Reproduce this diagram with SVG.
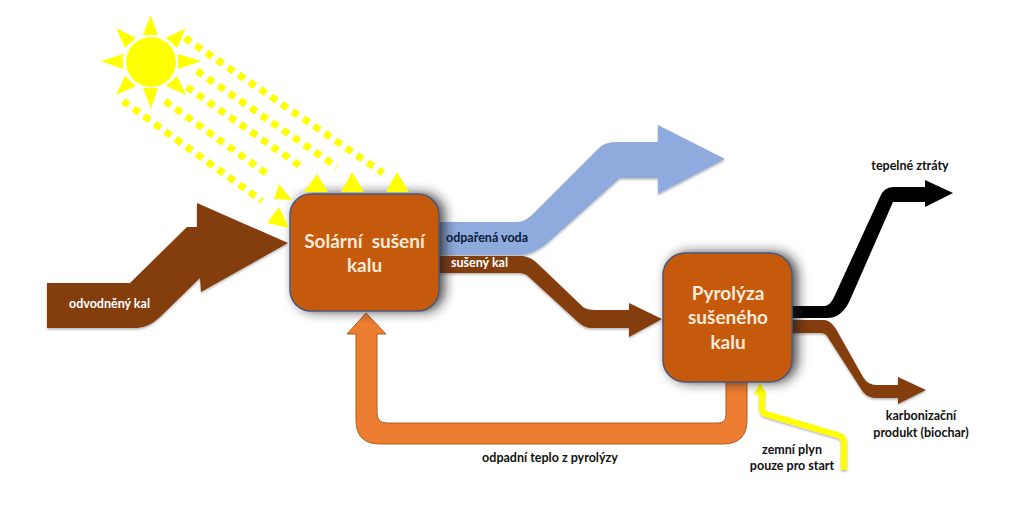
<svg xmlns="http://www.w3.org/2000/svg" width="1023" height="511" viewBox="0 0 1023 511">
<style>
text{font-family:Lato,"Open Sans","Liberation Sans",sans-serif;font-weight:700}
.lbl{font-size:12.5px;fill:#111}
.w{font-size:12.5px;fill:#fff}
.big{font-size:19px;fill:#fdeada;text-anchor:middle;white-space:pre}
.c{text-anchor:middle}
.box{fill:#c55a11;stroke:#4d5578;stroke-width:1.5;filter:url(#boxShadow)}
.ray{stroke:#ffff00;stroke-width:7;stroke-dasharray:7 6;fill:none}
.head{fill:#ffff00}
.flow{filter:url(#flowShadow)}
</style>
<defs>
<filter id="boxShadow" x="-30%" y="-30%" width="160%" height="160%"><feDropShadow dx="5" dy="0" stdDeviation="6" flood-color="#222" flood-opacity="0.8"/></filter>
<filter id="flowShadow" x="-10%" y="-10%" width="120%" height="120%"><feDropShadow dx="0" dy="1.5" stdDeviation="1.2" flood-color="#000" flood-opacity="0.3"/></filter>
</defs>
<rect width="1023" height="511" fill="#fff"/>
<g id="sun" fill="#ffff00">
<circle cx="151" cy="62" r="25"/>
<polygon points="143,35 158,35 150.500,15"/>
<polygon points="143,88 158,88 151,109"/>
<polygon points="123,54 123,69 101,61"/>
<polygon points="178,54 178,69 201,61"/>
<polygon points="116,28 136,38 125,48"/>
<polygon points="186,28 166,38 177,48"/>
<polygon points="116,95 125,76 136,86"/>
<polygon points="186,95 177,76 166,86"/>
</g>
<g id="connectors">
<path class="flow" fill="#843c0c" d="M47 283H130L187 227H197V203L288 243L201 292L200 278L160 317Q148 328 137 328H47Z"/>
<path class="flow" fill="#8faadc" d="M430 222H517Q525 222 532 215L600 147Q606 142 617 142H658V125L725 159L658 194V178H620L553 238Q535 255 520 255H430Z"/>
<path class="flow" fill="#843c0c" d="M430 256H523Q531 257 538 264L583 307Q587 310 595 310H629V303L662 319L629 337V328H590Q583 327 578 322L530 278Q526 273 518 273H430Z"/>
<path fill="#000" d="M785 306H825Q831 305 835 295L880 197Q884 187 893 187H925V180L953 193L925 207V202H893L850 300Q842 318 827 318H785Z"/>
<path class="flow" fill="#843c0c" d="M785 320H825Q831 321 836 329L863 377Q868 385 876 385H898V377L926 390L898 404V398H877Q868 398 863 392L827 336Q825 333 820 333H785Z"/>
<path fill="#ed7d31" stroke="#ae5a21" stroke-width="1" d="M366 313L386 334H377V413Q377 423 387 423H718Q726 423 726 415V375H747V420Q747 444 723 444H380Q356 444 356 420V334H347Z"/>
<path class="flow" fill="none" stroke="#ffff00" stroke-width="6" d="M844 470V442Q844 437 838 435L766 414Q762 413 762 408V392"/>
<polygon class="head" points="760,382 754,395 767,395"/>
</g>
<g id="node-solar">
<rect class="box" x="290" y="194" width="149" height="117" rx="21"/>
<text class="big" x="364.500" y="248" xml:space="preserve">Solární  sušení</text>
<text class="big" x="364.500" y="272">kalu</text>
</g>
<g id="node-pyrolysis">
<rect class="box" x="663" y="253" width="129" height="129" rx="22"/>
<text class="big" x="728" y="300">Pyrolýza</text>
<text class="big" x="728" y="324">sušeného</text>
<text class="big" x="728" y="349">kalu</text>
</g>
<g id="sun-rays">
<path class="ray" d="M185 38L383 173"/>
<path class="ray" d="M197 71L337 167"/>
<path class="ray" d="M187 87L303 168"/>
<path class="ray" d="M165 101L270 176"/>
<path class="ray" d="M123 101L262 201"/>
<polygon class="head" points="397,172 386,192 409,192"/>
<polygon class="head" points="352,172 341,192 364,192"/>
<polygon class="head" points="317,174 304,192 328,192"/>
<polygon class="head" points="279,184 274,199 292,200"/>
<polygon class="head" points="279,207 267,223 289,228"/>
</g>
<g id="labels">
<text class="w" x="69" y="308">odvodněný kal</text>
<text class="lbl" x="446" y="242" style="fill:#0a1a3a">odpařená voda</text>
<text class="w" x="451" y="267">sušený kal</text>
<text class="lbl c" x="910" y="170">tepelné ztráty</text>
<text class="lbl c" x="921" y="420">karbonizační</text>
<text class="lbl c" x="921" y="437">produkt (biochar)</text>
<text class="lbl c" x="792" y="454">zemní plyn</text>
<text class="lbl c" x="792" y="470">pouze pro start</text>
<text class="lbl c" x="550" y="462">odpadní teplo z pyrolýzy</text>
</g>
</svg>
